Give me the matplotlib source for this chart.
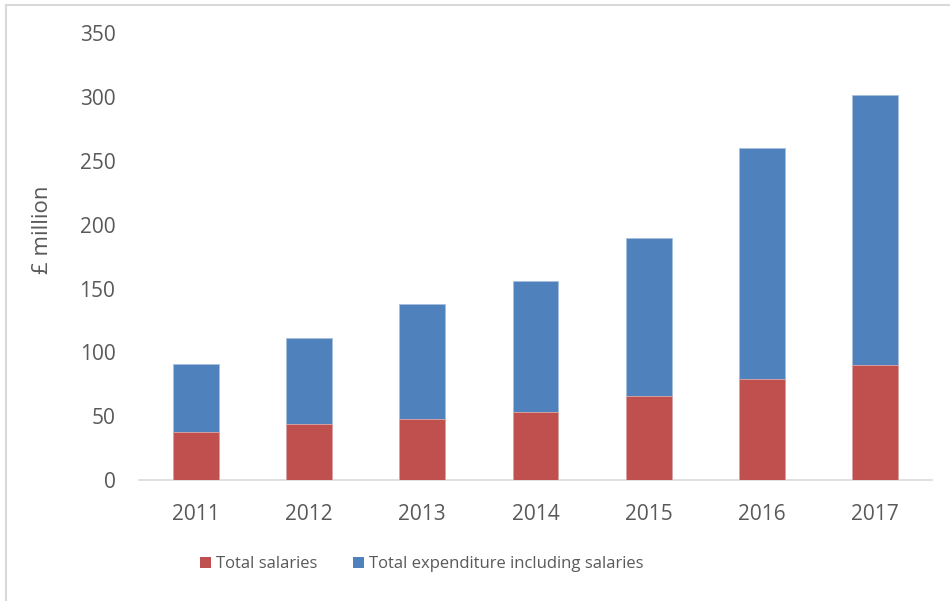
import matplotlib
matplotlib.use("Agg")
import numpy as np
import matplotlib.pyplot as plt
from matplotlib.lines import Line2D
from matplotlib.patches import Patch

# data (£ million)
years = ["2011", "2012", "2013", "2014", "2015", "2016", "2017"]
total_expenditure = [91, 111, 138, 156, 190, 260, 302]
total_salaries = [38, 44, 48, 53, 66, 79, 90]
y_ticks = [0, 50, 100, 150, 200, 250, 300, 350]

RED = "#C0504D"
BLUE = "#4F81BD"
TEXT = "#595959"
GRID = "#D9D9D9"

plt.rcParams["font.family"] = ["Open Sans", "DejaVu Sans"]

W, H = 950, 601
fig = plt.figure(figsize=(W / 100, H / 100), dpi=100)
ax = fig.add_axes([139 / W, 1 - 480 / H, (932 - 139) / W, (480 - 33.5) / H])

x = np.arange(len(years))
bw = 0.405
# totals first, salaries drawn over them from zero
ax.bar(x, total_expenditure, width=bw, color=BLUE, edgecolor="#A7C0DE", linewidth=0.6, zorder=2)
ax.bar(x, total_salaries, width=bw, color=RED, edgecolor="#DFA8A6", linewidth=0.6, zorder=3)

ax.set_xlim(-0.5, len(years) - 0.5)
ax.set_ylim(0, 350)
ax.set_yticks(y_ticks)
ax.set_xticks(x)
ax.set_xticklabels(years)

for side in ["left", "right", "top"]:
    ax.spines[side].set_visible(False)
ax.spines["bottom"].set_color(GRID)
ax.spines["bottom"].set_linewidth(1.2)

ax.tick_params(axis="both", length=0, labelsize=15, colors=TEXT)
ax.tick_params(axis="y", pad=17)
ax.tick_params(axis="x", pad=17)

fig.text(42 / W, 1 - 230 / H, "£ million", rotation=90, ha="center", va="center",
         fontsize=16, color=TEXT)

handles = [Patch(facecolor=RED, edgecolor="none"), Patch(facecolor=BLUE, edgecolor="none")]
fig.legend(handles, ["Total salaries", "Total expenditure including salaries"],
           loc="center", bbox_to_anchor=(421.5 / W, 1 - 564 / H), ncol=2, frameon=False,
           fontsize=12, labelcolor=TEXT, handlelength=0.66, handleheight=0.66,
           handletextpad=0.3, columnspacing=2.15)

# chart frame (top and left edges)
fig.add_artist(Line2D([6 / W, 1], [1 - 5 / H, 1 - 5 / H], transform=fig.transFigure,
                      color=GRID, linewidth=1.5))
fig.add_artist(Line2D([6 / W, 6 / W], [0, 1 - 5 / H], transform=fig.transFigure,
                      color=GRID, linewidth=1.5))

fig.savefig("out.png", dpi=100)
